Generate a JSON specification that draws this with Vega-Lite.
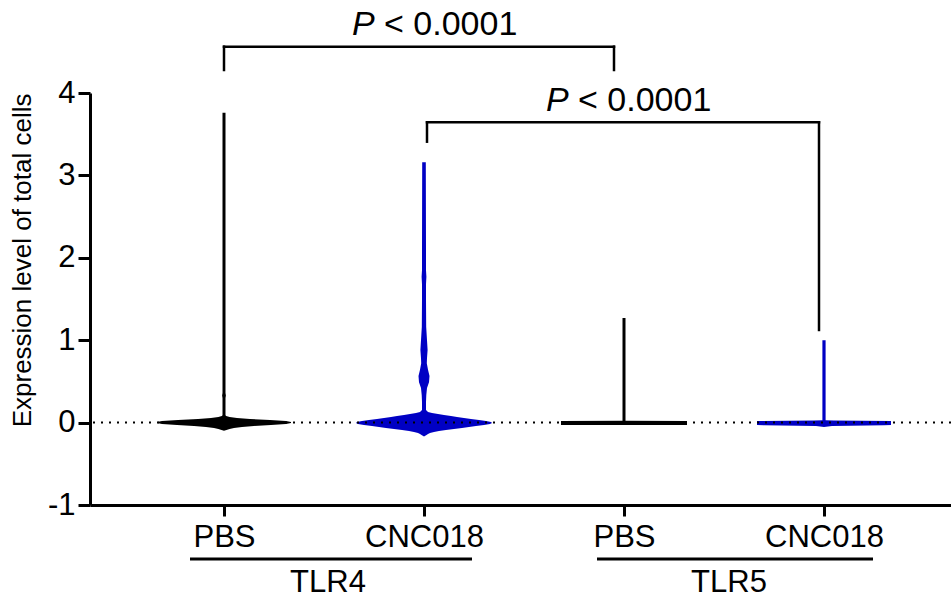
{
  "$schema": "https://vega.github.io/schema/vega-lite/v6.json",
  "width": 861,
  "height": 412,
  "autosize": {"type": "none"},
  "padding": {"left": 90, "top": 93, "right": 0, "bottom": 97},
  "background": "white",
  "config": {"view": {"stroke": null}, "font": "Liberation Sans", "axis": {"grid": false}},
  "datasets": {
    "violins": [
      {"group": "TLR4", "treatment": "PBS", "pos": 1, "y": -0.1, "lo": 1, "hi": 1},
      {"group": "TLR4", "treatment": "PBS", "pos": 1, "y": -0.09, "lo": 0.9875, "hi": 1.0125},
      {"group": "TLR4", "treatment": "PBS", "pos": 1, "y": -0.078, "lo": 0.972, "hi": 1.028},
      {"group": "TLR4", "treatment": "PBS", "pos": 1, "y": -0.066, "lo": 0.95, "hi": 1.05},
      {"group": "TLR4", "treatment": "PBS", "pos": 1, "y": -0.053, "lo": 0.91, "hi": 1.09},
      {"group": "TLR4", "treatment": "PBS", "pos": 1, "y": -0.041, "lo": 0.85, "hi": 1.15},
      {"group": "TLR4", "treatment": "PBS", "pos": 1, "y": -0.029, "lo": 0.765, "hi": 1.235},
      {"group": "TLR4", "treatment": "PBS", "pos": 1, "y": -0.017, "lo": 0.69, "hi": 1.31},
      {"group": "TLR4", "treatment": "PBS", "pos": 1, "y": -0.005, "lo": 0.665, "hi": 1.335},
      {"group": "TLR4", "treatment": "PBS", "pos": 1, "y": 0.007, "lo": 0.665, "hi": 1.335},
      {"group": "TLR4", "treatment": "PBS", "pos": 1, "y": 0.019, "lo": 0.69, "hi": 1.31},
      {"group": "TLR4", "treatment": "PBS", "pos": 1, "y": 0.032, "lo": 0.77, "hi": 1.23},
      {"group": "TLR4", "treatment": "PBS", "pos": 1, "y": 0.044, "lo": 0.87, "hi": 1.13},
      {"group": "TLR4", "treatment": "PBS", "pos": 1, "y": 0.056, "lo": 0.935, "hi": 1.065},
      {"group": "TLR4", "treatment": "PBS", "pos": 1, "y": 0.068, "lo": 0.972, "hi": 1.028},
      {"group": "TLR4", "treatment": "PBS", "pos": 1, "y": 0.08, "lo": 0.989, "hi": 1.011},
      {"group": "TLR4", "treatment": "PBS", "pos": 1, "y": 0.09, "lo": 0.9925, "hi": 1.0075},
      {"group": "TLR4", "treatment": "PBS", "pos": 1, "y": 0.3, "lo": 0.9925, "hi": 1.0075},
      {"group": "TLR4", "treatment": "PBS", "pos": 1, "y": 0.33, "lo": 0.9905, "hi": 1.0095},
      {"group": "TLR4", "treatment": "PBS", "pos": 1, "y": 0.36, "lo": 0.9925, "hi": 1.0075},
      {"group": "TLR4", "treatment": "PBS", "pos": 1, "y": 3.76, "lo": 0.9925, "hi": 1.0075},

      {"group": "TLR4", "treatment": "CNC018", "pos": 2, "y": -0.17, "lo": 2, "hi": 2},
      {"group": "TLR4", "treatment": "CNC018", "pos": 2, "y": -0.15, "lo": 1.9875, "hi": 2.0125},
      {"group": "TLR4", "treatment": "CNC018", "pos": 2, "y": -0.138, "lo": 1.98, "hi": 2.02},
      {"group": "TLR4", "treatment": "CNC018", "pos": 2, "y": -0.126, "lo": 1.97, "hi": 2.03},
      {"group": "TLR4", "treatment": "CNC018", "pos": 2, "y": -0.114, "lo": 1.95, "hi": 2.05},
      {"group": "TLR4", "treatment": "CNC018", "pos": 2, "y": -0.102, "lo": 1.925, "hi": 2.075},
      {"group": "TLR4", "treatment": "CNC018", "pos": 2, "y": -0.09, "lo": 1.89, "hi": 2.11},
      {"group": "TLR4", "treatment": "CNC018", "pos": 2, "y": -0.078, "lo": 1.85, "hi": 2.15},
      {"group": "TLR4", "treatment": "CNC018", "pos": 2, "y": -0.066, "lo": 1.81, "hi": 2.19},
      {"group": "TLR4", "treatment": "CNC018", "pos": 2, "y": -0.053, "lo": 1.775, "hi": 2.225},
      {"group": "TLR4", "treatment": "CNC018", "pos": 2, "y": -0.041, "lo": 1.74, "hi": 2.26},
      {"group": "TLR4", "treatment": "CNC018", "pos": 2, "y": -0.029, "lo": 1.7, "hi": 2.3},
      {"group": "TLR4", "treatment": "CNC018", "pos": 2, "y": -0.017, "lo": 1.67, "hi": 2.33},
      {"group": "TLR4", "treatment": "CNC018", "pos": 2, "y": -0.005, "lo": 1.66, "hi": 2.34},
      {"group": "TLR4", "treatment": "CNC018", "pos": 2, "y": 0.007, "lo": 1.665, "hi": 2.335},
      {"group": "TLR4", "treatment": "CNC018", "pos": 2, "y": 0.019, "lo": 1.69, "hi": 2.31},
      {"group": "TLR4", "treatment": "CNC018", "pos": 2, "y": 0.032, "lo": 1.725, "hi": 2.275},
      {"group": "TLR4", "treatment": "CNC018", "pos": 2, "y": 0.044, "lo": 1.765, "hi": 2.235},
      {"group": "TLR4", "treatment": "CNC018", "pos": 2, "y": 0.056, "lo": 1.8, "hi": 2.2},
      {"group": "TLR4", "treatment": "CNC018", "pos": 2, "y": 0.068, "lo": 1.835, "hi": 2.165},
      {"group": "TLR4", "treatment": "CNC018", "pos": 2, "y": 0.08, "lo": 1.865, "hi": 2.135},
      {"group": "TLR4", "treatment": "CNC018", "pos": 2, "y": 0.092, "lo": 1.9, "hi": 2.1},
      {"group": "TLR4", "treatment": "CNC018", "pos": 2, "y": 0.104, "lo": 1.93, "hi": 2.07},
      {"group": "TLR4", "treatment": "CNC018", "pos": 2, "y": 0.117, "lo": 1.96, "hi": 2.04},
      {"group": "TLR4", "treatment": "CNC018", "pos": 2, "y": 0.129, "lo": 1.98, "hi": 2.02},
      {"group": "TLR4", "treatment": "CNC018", "pos": 2, "y": 0.153, "lo": 1.99, "hi": 2.01},
      {"group": "TLR4", "treatment": "CNC018", "pos": 2, "y": 0.25, "lo": 1.99, "hi": 2.01},
      {"group": "TLR4", "treatment": "CNC018", "pos": 2, "y": 0.335, "lo": 1.9885, "hi": 2.0115},
      {"group": "TLR4", "treatment": "CNC018", "pos": 2, "y": 0.42, "lo": 1.985, "hi": 2.015},
      {"group": "TLR4", "treatment": "CNC018", "pos": 2, "y": 0.49, "lo": 1.975, "hi": 2.025},
      {"group": "TLR4", "treatment": "CNC018", "pos": 2, "y": 0.565, "lo": 1.9725, "hi": 2.0275},
      {"group": "TLR4", "treatment": "CNC018", "pos": 2, "y": 0.64, "lo": 1.98, "hi": 2.02},
      {"group": "TLR4", "treatment": "CNC018", "pos": 2, "y": 0.72, "lo": 1.986, "hi": 2.014},
      {"group": "TLR4", "treatment": "CNC018", "pos": 2, "y": 0.78, "lo": 1.985, "hi": 2.015},
      {"group": "TLR4", "treatment": "CNC018", "pos": 2, "y": 0.88, "lo": 1.982, "hi": 2.018},
      {"group": "TLR4", "treatment": "CNC018", "pos": 2, "y": 1.0, "lo": 1.985, "hi": 2.015},
      {"group": "TLR4", "treatment": "CNC018", "pos": 2, "y": 1.16, "lo": 1.989, "hi": 2.011},
      {"group": "TLR4", "treatment": "CNC018", "pos": 2, "y": 1.49, "lo": 1.99, "hi": 2.01},
      {"group": "TLR4", "treatment": "CNC018", "pos": 2, "y": 1.68, "lo": 1.99, "hi": 2.01},
      {"group": "TLR4", "treatment": "CNC018", "pos": 2, "y": 1.77, "lo": 1.988, "hi": 2.012},
      {"group": "TLR4", "treatment": "CNC018", "pos": 2, "y": 1.85, "lo": 1.99, "hi": 2.01},
      {"group": "TLR4", "treatment": "CNC018", "pos": 2, "y": 2.09, "lo": 1.99, "hi": 2.01},
      {"group": "TLR4", "treatment": "CNC018", "pos": 2, "y": 3.16, "lo": 1.991, "hi": 2.009},

      {"group": "TLR5", "treatment": "PBS", "pos": 3, "y": -0.03, "lo": 2.685, "hi": 3.315},
      {"group": "TLR5", "treatment": "PBS", "pos": 3, "y": 0.02, "lo": 2.685, "hi": 3.315},
      {"group": "TLR5", "treatment": "PBS", "pos": 3, "y": 0.021, "lo": 2.9925, "hi": 3.0075},
      {"group": "TLR5", "treatment": "PBS", "pos": 3, "y": 1.27, "lo": 2.9925, "hi": 3.0075},

      {"group": "TLR5", "treatment": "CNC018", "pos": 4, "y": -0.052, "lo": 4, "hi": 4},
      {"group": "TLR5", "treatment": "CNC018", "pos": 4, "y": -0.04, "lo": 3.96, "hi": 4.04},
      {"group": "TLR5", "treatment": "CNC018", "pos": 4, "y": -0.032, "lo": 3.7, "hi": 4.3},
      {"group": "TLR5", "treatment": "CNC018", "pos": 4, "y": -0.028, "lo": 3.665, "hi": 4.335},
      {"group": "TLR5", "treatment": "CNC018", "pos": 4, "y": 0.018, "lo": 3.665, "hi": 4.335},
      {"group": "TLR5", "treatment": "CNC018", "pos": 4, "y": 0.024, "lo": 3.95, "hi": 4.05},
      {"group": "TLR5", "treatment": "CNC018", "pos": 4, "y": 0.03, "lo": 3.992, "hi": 4.008},
      {"group": "TLR5", "treatment": "CNC018", "pos": 4, "y": 1.0, "lo": 3.992, "hi": 4.008}
    ],
    "groups": [
      {"label": "TLR4", "from": 0.83, "to": 2.24, "mid": 1.52},
      {"label": "TLR5", "from": 2.865, "to": 4.245, "mid": 3.525}
    ],
    "brackets": [
      {"from": 1.0, "to": 2.95, "top": 4.562, "lb": 4.279, "rb": 4.279, "px": 1.64, "ty": 4.704, "p": "P", "rest": "< 0.0001"},
      {"from": 2.015, "to": 3.975, "top": 3.644, "lb": 3.409, "rb": 1.124, "px": 2.61, "ty": 3.78, "p": "P", "rest": "< 0.0001"}
    ]
  },
  "layer": [
    {
      "data": {"name": "violins"},
      "mark": {"type": "area", "orient": "horizontal", "interpolate": "linear"},
      "encoding": {
        "y": {
          "field": "y", "type": "quantitative",
          "scale": {"domain": [-1, 4], "nice": false, "zero": false},
          "axis": {
            "values": [-1, 0, 1, 2, 3, 4],
            "labelExpr": "'' + datum.value",
            "title": "Expression level of total cells",
            "titleFontSize": 26, "titleFontWeight": "normal", "titleColor": "black", "titlePadding": 12,
            "titleAnchor": "end",
            "labelFontSize": 31, "labelColor": "black", "labelPadding": 3,
            "tickSize": 12, "tickWidth": 3, "tickColor": "black",
            "domainWidth": 3, "domainColor": "black", "grid": false
          }
        },
        "x": {
          "field": "lo", "type": "quantitative", "stack": null,
          "scale": {"domain": [0.33, 4.635], "nice": false, "zero": false},
          "axis": {
            "values": [1, 2, 3, 4],
            "labelExpr": "datum.value == 1 || datum.value == 3 ? 'PBS' : 'CNC018'",
            "title": null,
            "labelFontSize": 31, "labelColor": "black", "labelPadding": 6, "labelFlush": false, "labelOverlap": false,
            "tickSize": 11, "tickWidth": 3, "tickColor": "black",
            "domainWidth": 3, "domainColor": "black", "grid": false
          }
        },
        "x2": {"field": "hi"},
        "color": {"field": "treatment", "type": "nominal", "scale": {"domain": ["PBS", "CNC018"], "range": ["#000000", "#0000C4"]}, "legend": null},
        "detail": {"field": "pos", "type": "nominal"}
      }
    },
    {
      "data": {"values": [{"ref": 0}]},
      "mark": {"type": "rule", "strokeDash": [2, 6], "strokeWidth": 2, "color": "black"},
      "encoding": {"y": {"field": "ref", "type": "quantitative"}}
    },
    {
      "data": {"name": "groups"},
      "mark": {"type": "rule", "strokeWidth": 3, "color": "black"},
      "encoding": {
        "x": {"field": "from", "type": "quantitative"},
        "x2": {"field": "to"},
        "y": {"datum": -1.655}
      }
    },
    {
      "data": {"name": "groups"},
      "mark": {"type": "text", "fontSize": 31, "color": "black", "align": "center", "baseline": "alphabetic"},
      "encoding": {
        "x": {"field": "mid", "type": "quantitative"},
        "y": {"datum": -2.06},
        "text": {"field": "label"}
      }
    },
    {
      "data": {"name": "brackets"},
      "mark": {"type": "rule", "strokeWidth": 2.5, "color": "black", "strokeCap": "square"},
      "encoding": {
        "x": {"field": "from", "type": "quantitative"},
        "x2": {"field": "to"},
        "y": {"field": "top", "type": "quantitative"}
      }
    },
    {
      "data": {"name": "brackets"},
      "mark": {"type": "rule", "strokeWidth": 2.5, "color": "black", "strokeCap": "square"},
      "encoding": {
        "x": {"field": "from", "type": "quantitative"},
        "y": {"field": "top", "type": "quantitative"},
        "y2": {"field": "lb"}
      }
    },
    {
      "data": {"name": "brackets"},
      "mark": {"type": "rule", "strokeWidth": 2.5, "color": "black", "strokeCap": "square"},
      "encoding": {
        "x": {"field": "to", "type": "quantitative"},
        "y": {"field": "top", "type": "quantitative"},
        "y2": {"field": "rb"}
      }
    },
    {
      "data": {"name": "brackets"},
      "mark": {"type": "text", "fontSize": 34, "fontStyle": "italic", "color": "black", "align": "left", "baseline": "alphabetic"},
      "encoding": {
        "x": {"field": "px", "type": "quantitative"},
        "y": {"field": "ty", "type": "quantitative"},
        "text": {"field": "p"}
      }
    },
    {
      "data": {"name": "brackets"},
      "mark": {"type": "text", "fontSize": 34, "color": "black", "align": "left", "baseline": "alphabetic", "dx": 32},
      "encoding": {
        "x": {"field": "px", "type": "quantitative"},
        "y": {"field": "ty", "type": "quantitative"},
        "text": {"field": "rest"}
      }
    }
  ]
}
